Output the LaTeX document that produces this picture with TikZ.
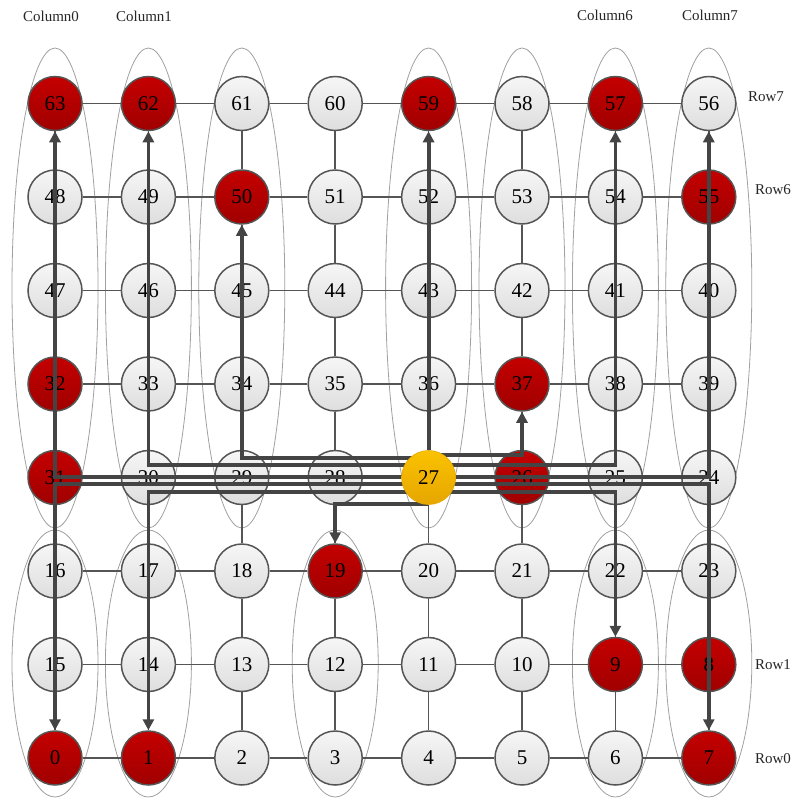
\documentclass[tikz,border=0pt]{standalone}
\usepackage{fontspec}
\setmainfont{Liberation Serif}
\usetikzlibrary{arrows.meta}
\pgfdeclarelayer{bg}
\pgfdeclarelayer{arr}
\pgfdeclarelayer{top}
\pgfsetlayers{bg,main,arr,top}
\definecolor{bord}{HTML}{555555}
\definecolor{flowc}{HTML}{444444}
\definecolor{ellc}{HTML}{A0A0A0}
\definecolor{gtop}{HTML}{F6F6F6}
\definecolor{gbot}{HTML}{DEDEDE}
\definecolor{rtop}{HTML}{C40000}
\definecolor{rbot}{HTML}{A00000}
\definecolor{ytop}{HTML}{FAC200}
\definecolor{ybot}{HTML}{E6A600}
\makeatletter
\newcommand\pickstyle[1]{\edef\tmpchk{\noexpand\in@{,#1,}{,63,62,59,57,50,55,32,37,31,26,19,9,8,0,1,7,}}\tmpchk\ifin@\gdef\nst{rnode}\else\gdef\nst{gnode}\fi}
\makeatother
\tikzset{
  base/.style={circle, minimum size=54pt, inner sep=0pt, draw=bord, line width=1.5pt, font=\fontsize{21}{21}\selectfont, text=black},
  gnode/.style={base, top color=gtop, bottom color=gbot},
  rnode/.style={base, top color=rtop, bottom color=rbot},
  ynode/.style={base, draw=ybot, line width=0.6pt, top color=ytop, bottom color=ybot},
  edge/.style={draw=bord, line width=1.6pt},
  ell/.style={draw=ellc, line width=0.8pt},
  flow/.style={draw=flowc, line width=3.8pt, -{Triangle[length=11pt,width=11pt]}},
  lbl/.style={font=\fontsize{15}{15}\selectfont, text=black!85, inner sep=0pt}
}
\begin{document}
\begin{tikzpicture}[x=1pt,y=-1pt]
\useasboundingbox (0,0) rectangle (792,798);
% ellipses
\begin{pgfonlayer}{bg}
\foreach \i in {0,1,2,4,5,6,7}{
  \draw[ell] ({55+93.4*\i},288) ellipse [x radius=43pt, y radius=240pt];
}
\foreach \i in {0,1,3,6,7}{
  \draw[ell] ({55+93.4*\i},663.5) ellipse [x radius=43pt, y radius=133.5pt];
}
\end{pgfonlayer}
% node 27 on top
\begin{pgfonlayer}{top}
\node[ynode] (n27) at ({55+93.4*4},{103.5+93.5*4}) {27};
\end{pgfonlayer}
% nodes
\foreach \j in {0,...,7}{
  \foreach \i in {0,...,7}{
    \pgfmathtruncatemacro\r{7-\j}
    \pgfmathtruncatemacro\n{mod(\r,2)==0 ? 8*\r+\i : 8*\r+7-\i}
    \ifnum\n=27\relax\else
      \pickstyle{\n}
      \node[\nst] (n\n) at ({55+93.4*\i},{103.5+93.5*\j}) {\n};
    \fi
  }
}
% edges
\begin{pgfonlayer}{bg}
\foreach \j in {0,...,7}{
  \foreach \i in {0,...,6}{
    \pgfmathtruncatemacro\r{7-\j}
    \pgfmathtruncatemacro\a{mod(\r,2)==0 ? 8*\r+\i : 8*\r+7-\i}
    \pgfmathtruncatemacro\b{mod(\r,2)==0 ? 8*\r+\i+1 : 8*\r+6-\i}
    \draw[edge] (n\a) -- (n\b);
  }
}
\foreach \j in {0,...,6}{
  \foreach \i in {0,...,7}{
    \pgfmathtruncatemacro\r{7-\j}
    \pgfmathtruncatemacro\s{6-\j}
    \pgfmathtruncatemacro\a{mod(\r,2)==0 ? 8*\r+\i : 8*\r+7-\i}
    \pgfmathtruncatemacro\b{mod(\s,2)==0 ? 8*\s+\i : 8*\s+7-\i}
    \draw[edge] (n\a) -- (n\b);
  }
}
\end{pgfonlayer}
% flows
\begin{pgfonlayer}{arr}
\draw[flow] (n27) -- (n59);
\draw[flow] ([yshift=22.5pt]n27.center) -| (n37);
\draw[flow] ([yshift=19.5pt]n27.center) -| (n50);
\draw[flow] ([yshift=12.5pt]n27.center) -| (n62);
\draw[flow] ([yshift=12.5pt]n27.center) -| (n57);
\draw[flow] ([yshift=0.5pt]n27.center) -| (n63);
\draw[flow] ([yshift=0.5pt]n27.center) -| (n56);
\draw[flow] ([yshift=-6.5pt]n27.center) -| (n0);
\draw[flow] ([yshift=-6.5pt]n27.center) -| (n7);
\draw[flow] ([yshift=-14.5pt]n27.center) -| (n1);
\draw[flow] ([yshift=-14.5pt]n27.center) -| (n9);
\draw[flow] ([yshift=-26.5pt]n27.center) -| (n19);
\end{pgfonlayer}
% labels
\node[lbl] (lc0) at (51,16) {Column0};
\node[lbl] (lc1) at (144,16) {Column1};
\node[lbl] (lc6) at (605,15) {Column6};
\node[lbl] (lc7) at (710,15) {Column7};
\node[lbl] (lr7) at (766,97) {Row7};
\node[lbl] (lr6) at (773,190) {Row6};
\node[lbl] (lr1) at (773,665) {Row1};
\node[lbl] (lr0) at (773,759) {Row0};
\end{tikzpicture}
\end{document}
